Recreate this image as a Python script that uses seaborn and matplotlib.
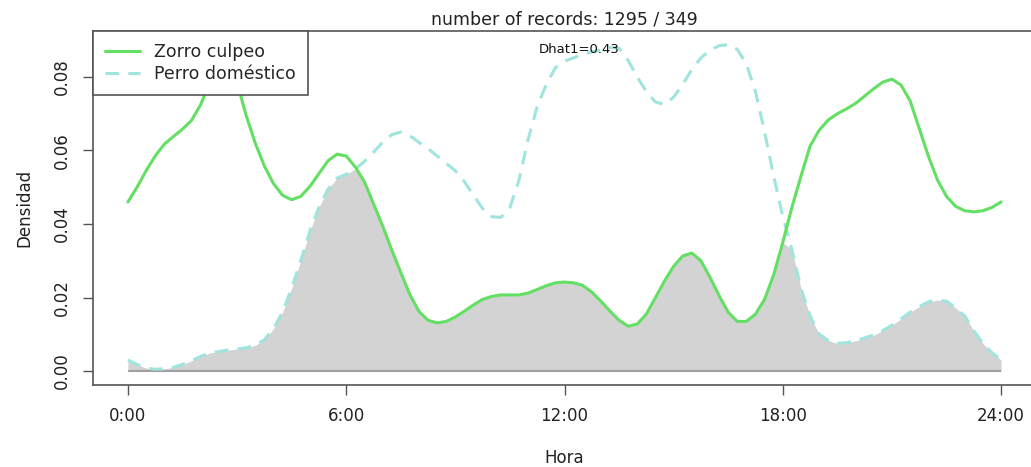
import numpy as np
import pandas as pd
import matplotlib
matplotlib.use('Agg')
import matplotlib.pyplot as plt
import seaborn as sns

# Hour grid (every 15 min) and density curves
hours = np.arange(0, 24.01, 0.25)

zorro = [0.0460, 0.0500, 0.0545, 0.0585, 0.0617, 0.0638, 0.0658, 0.0682,
         0.0725, 0.0785, 0.0838, 0.0842, 0.0785, 0.0695, 0.0620, 0.0558,
         0.0510, 0.0478, 0.0466, 0.0475, 0.0502, 0.0537, 0.0572, 0.0590,
         0.0585, 0.0555, 0.0515, 0.0455, 0.0395, 0.0330, 0.0268, 0.0208,
         0.0162, 0.0138, 0.0131, 0.0135, 0.0147, 0.0163, 0.0180, 0.0195,
         0.0203, 0.0207, 0.0207, 0.0207, 0.0212, 0.0222, 0.0232, 0.0240,
         0.0242, 0.0240, 0.0233, 0.0215, 0.0190, 0.0163, 0.0138, 0.0122,
         0.0128, 0.0155, 0.0200, 0.0245, 0.0285, 0.0313, 0.0321, 0.0300,
         0.0255, 0.0205, 0.0160, 0.0135, 0.0135, 0.0155, 0.0195, 0.0262,
         0.0350, 0.0445, 0.0530, 0.0612, 0.0655, 0.0683, 0.0700, 0.0713,
         0.0728, 0.0748, 0.0768, 0.0786, 0.0794, 0.0778, 0.0735, 0.0660,
         0.0585, 0.0520, 0.0475, 0.0448, 0.0436, 0.0433, 0.0436, 0.0445,
         0.0460]

perro = [0.0030, 0.0018, 0.0008, 0.0005, 0.0006, 0.0010, 0.0018, 0.0028,
         0.0040, 0.0049, 0.0053, 0.0057, 0.0060, 0.0063, 0.0070, 0.0085,
         0.0115, 0.0160, 0.0225, 0.0300, 0.0380, 0.0445, 0.0495, 0.0525,
         0.0535, 0.0550, 0.0570, 0.0595, 0.0622, 0.0643, 0.0650, 0.0640,
         0.0622, 0.0605, 0.0585, 0.0565, 0.0545, 0.0515, 0.0478, 0.0442,
         0.0420, 0.0418, 0.0445, 0.0520, 0.0630, 0.0720, 0.0780, 0.0825,
         0.0843, 0.0852, 0.0862, 0.0868, 0.0873, 0.0880, 0.0878, 0.0845,
         0.0800, 0.0760, 0.0732, 0.0725, 0.0745, 0.0780, 0.0820, 0.0852,
         0.0873, 0.0885, 0.0888, 0.0875, 0.0835, 0.0760, 0.0650, 0.0530,
         0.0420, 0.0330, 0.0225, 0.0150, 0.0100, 0.0083, 0.0075, 0.0077,
         0.0082, 0.0090, 0.0098, 0.0110, 0.0125, 0.0142, 0.0160, 0.0175,
         0.0188, 0.0193, 0.0190, 0.0172, 0.0150, 0.0110, 0.0075, 0.0050,
         0.0030]

tick_hours = [0, 6, 12, 18, 24]
tick_labels = ['0:00', '6:00', '12:00', '18:00', '24:00']
y_ticks = [0.00, 0.02, 0.04, 0.06, 0.08]
dhat = 0.43
n_zorro, n_perro = 1295, 349

df = pd.DataFrame({'hora': hours, 'zorro': zorro, 'perro': perro})

sns.set_style('white')
plt.rcParams['font.family'] = ['DejaVu Sans']

fig = plt.figure(figsize=(10.31, 4.67), dpi=100)
# plot box runs past the right edge of the picture, like the reference
ax = fig.add_axes([93 / 1031, 1 - 385 / 467, (1036 - 93) / 1031, (385 - 31) / 467])

green = '#63e063'
cyan = '#a0e4de'

# overlap area
ax.fill_between(df['hora'], 0, np.minimum(df['zorro'], df['perro']),
                color='#d3d3d3', linewidth=0, zorder=1)
ax.hlines(0, hours[0], hours[-1], color='#a0a0a0', linewidth=1.5, zorder=2)

sns.lineplot(data=df, x='hora', y='perro', ax=ax, color=cyan, linewidth=2.2,
             zorder=3, label='Perro doméstico')
ax.lines[-1].set_dashes((4.5, 3))
sns.lineplot(data=df, x='hora', y='zorro', ax=ax, color=green, linewidth=2.2,
             zorder=4, label='Zorro culpeo')

ax.set_xlim(-0.96, 24.96)
ax.set_ylim(-0.0038, 0.0925)
ax.set_xticks(tick_hours)
ax.set_xticklabels(tick_labels)
ax.set_yticks(y_ticks)
ax.set_yticklabels([f'{v:.2f}' for v in y_ticks], rotation=90, va='center')
ax.tick_params(axis='both', direction='out', length=7, width=1,
               color='#555555', labelsize=12, labelcolor='#222222',
               left=True, bottom=True)
ax.tick_params(axis='x', pad=9)
ax.tick_params(axis='y', pad=9)

for s in ax.spines.values():
    s.set_color('#555555')
    s.set_linewidth(1.2)
    s.set_visible(True)

ax.set_xlabel('Hora', fontsize=12, color='#222222', labelpad=17)
ax.set_ylabel('Densidad', fontsize=12, color='#222222', labelpad=14)
ax.set_title(f'number of records: {n_zorro} / {n_perro}', fontsize=12.5,
             color='#222222', pad=5)
ax.text(12.4, 0.0875, f'Dhat1={dhat}', fontsize=9.5, ha='center', va='center',
        color='#111111', zorder=5)

handles, labels = ax.get_legend_handles_labels()
order = [labels.index('Zorro culpeo'), labels.index('Perro doméstico')]
leg = ax.legend([handles[i] for i in order], [labels[i] for i in order],
                loc='upper left', bbox_to_anchor=(0, 1), borderaxespad=0,
                fancybox=False, framealpha=1, edgecolor='#555555',
                fontsize=12.5, handlelength=2.0, labelspacing=0.2,
                borderpad=0.7, handletextpad=0.8)
leg.get_frame().set_linewidth(1.2)
leg.set_zorder(10)

fig.savefig('out.png', dpi=100)
